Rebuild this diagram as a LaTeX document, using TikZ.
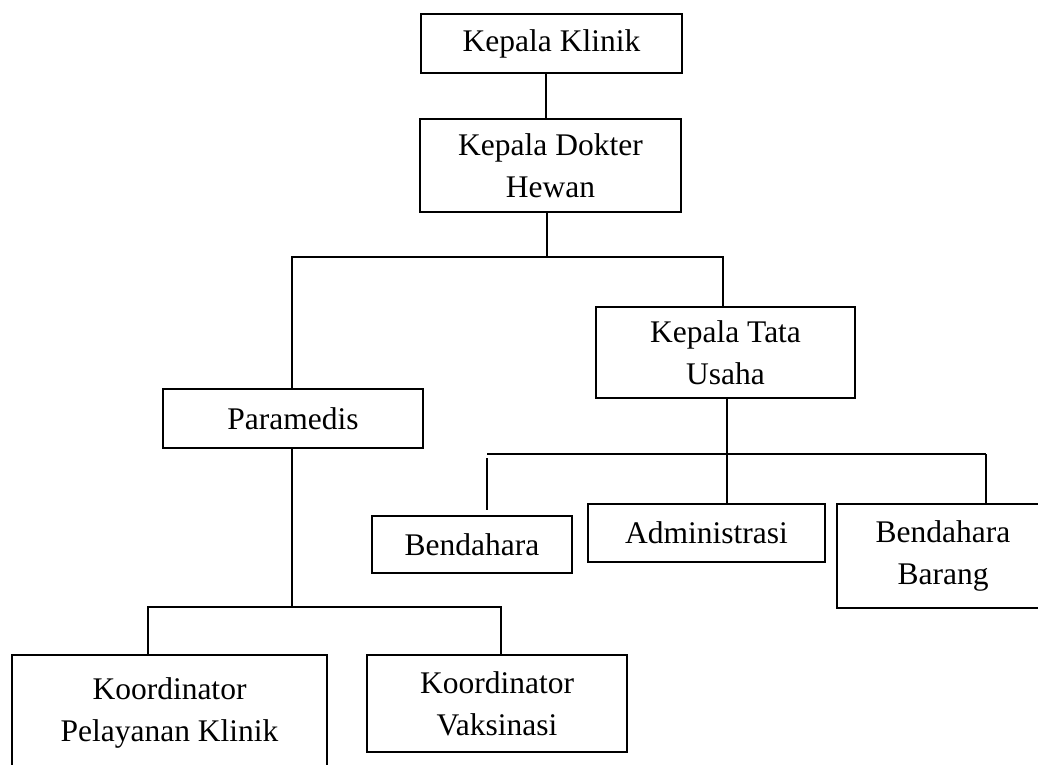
\documentclass[tikz,border=0pt]{standalone}
\usepackage{fontspec}
\setmainfont{Liberation Serif}
\usepackage{tikz}
\usetikzlibrary{positioning, calc}
\tikzset{
  jabatan/.style={
	draw, % draws the box
	line width=0.6pt, % thin border
	align=center, % centres the lines of text
	inner sep=0pt,
	font=\fontsize{12.6pt}{16.8pt}\selectfont, % sets the text size
  },
  garis/.style={
	line width=0.6pt, % same width as the boxes
  }
}

\begin{document}
\begin{tikzpicture}[x=0.4pt, y=-0.4pt]
		\useasboundingbox (0,0) rectangle (1038,765);

		\node [jabatan, minimum width=104.4pt, minimum height=23.6pt] (klinik) at (551.5,43.5) {Kepala Klinik};
		\node [jabatan, minimum width=104.4pt, minimum height=37.2pt] (dokter) at (550.5,165.5) {Kepala Dokter\\Hewan};
		\node [jabatan, minimum width=104pt, minimum height=23.6pt] (paramedis) at (293,418.5) {Paramedis};
		\node [jabatan, minimum width=103.6pt, minimum height=36.4pt] (tatausaha) at (725.5,352.5) {Kepala Tata\\Usaha};

		\node [jabatan, minimum width=80pt, minimum height=22.8pt] (bendahara) at (472,544.5) {Bendahara};
		\node [jabatan, minimum width=94.8pt, minimum height=23.2pt] (admin) at (706.5,533) {Administrasi};
		\node [jabatan, minimum width=84.8pt, minimum height=41.6pt] (barang) at (943,556) {Bendahara\\Barang};

		\node [jabatan, minimum width=126pt, minimum height=46pt] (pelayanan) at (169.5,712.5) {Koordinator\\Pelayanan Klinik};
		\node [jabatan, minimum width=104pt, minimum height=38.8pt] (vaksin) at (497,703.5) {Koordinator\\Vaksinasi};

		% Titik cabang
		\coordinate (c1) at (547,257);
		\coordinate (c6) at (723,257);
		\coordinate (c2) at (487,454);
		\coordinate (c3) at (986,454);
		\coordinate (c4) at (148,607);
		\coordinate (c5) at (501,607);

		% Garis penghubung
		\draw [garis] ([xshift=-2.2pt]klinik.south) -- ([xshift=-2.2pt]klinik.south |- dokter.north);
		\draw [garis] (dokter.south -| c1) -- (c1);
		\draw [garis] (paramedis.north -| 292,0) |- (c6) -- (c6 |- tatausaha.north);

		\draw [garis] ([xshift=0.6pt]tatausaha.south) -- ([xshift=0.6pt]tatausaha.south |- admin.north);
		\draw [garis] (c2) -- (c3);
		\draw [garis, shorten <=1.6pt, shorten >=2pt] (c2) -- (c2 |- bendahara.north);
		\draw [garis] (c3) -- (c3 |- barang.north);

		\draw [garis] (paramedis.south -| 292,0) -- (c4 -| 292,0);
		\draw [garis] (pelayanan.north -| c4) |- (c5) -- (c5 |- vaksin.north);

\end{tikzpicture}
\end{document}
